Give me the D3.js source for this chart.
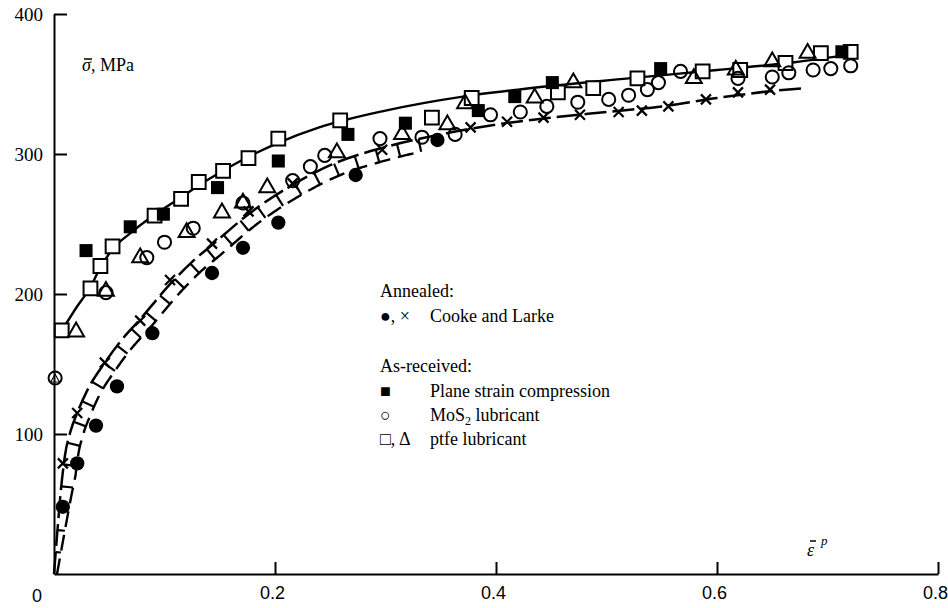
<!DOCTYPE html>
<html>
<head>
<meta charset="utf-8">
<script src="https://cdn.jsdelivr.net/npm/d3@7"></script>
<style>
  html, body { margin: 0; padding: 0; background: #fff; }
  svg { display: block; }
</style>
</head>
<body>
<svg id="chart" width="948" height="608"></svg>
<script>
// Flow stress σ̄ (MPa) against equivalent plastic strain ε̄p

// Annealed, Cooke and Larke: filled circles and crosses
const annealedDots = [
  [0.008, 48], [0.021, 79], [0.038, 106], [0.057, 134], [0.089, 172],
  [0.143, 215], [0.171, 233], [0.203, 251], [0.273, 285], [0.347, 310]
];
const annealedCrosses = [
  [0.008, 79], [0.021, 115], [0.046, 151], [0.078, 181], [0.105, 210],
  [0.143, 236], [0.176, 259], [0.216, 279], [0.297, 303], [0.377, 319],
  [0.410, 323], [0.443, 326], [0.476, 328], [0.511, 330], [0.532, 331],
  [0.556, 334], [0.590, 339], [0.619, 344], [0.648, 346]
];

// As-received material
const planeStrain = [
  [0.029, 231], [0.069, 248], [0.099, 257], [0.148, 276], [0.203, 295],
  [0.266, 314], [0.318, 322], [0.384, 331], [0.417, 341], [0.451, 351],
  [0.549, 361], [0.713, 373]
];
const mos2 = [
  [0.001, 140], [0.047, 201], [0.084, 226], [0.100, 237], [0.126, 247],
  [0.171, 265], [0.216, 281], [0.232, 291], [0.245, 299], [0.295, 311],
  [0.333, 312], [0.363, 314], [0.395, 328], [0.422, 330], [0.446, 334],
  [0.474, 337], [0.502, 339], [0.520, 342], [0.537, 346], [0.547, 351],
  [0.567, 359], [0.619, 354], [0.650, 355], [0.665, 358], [0.687, 360],
  [0.703, 361], [0.721, 363]
];
const ptfeSquares = [
  [0.007, 174], [0.033, 204], [0.042, 220], [0.053, 234], [0.091, 256],
  [0.115, 268], [0.131, 280], [0.153, 288], [0.176, 297], [0.203, 311],
  [0.259, 324], [0.342, 326], [0.378, 340], [0.456, 344], [0.488, 347],
  [0.528, 354], [0.587, 359], [0.621, 360], [0.662, 365], [0.694, 372],
  [0.721, 373]
];
const ptfeTriangles = [
  [0.001, 139], [0.020, 173], [0.047, 202], [0.078, 226], [0.120, 244],
  [0.152, 258], [0.171, 265], [0.193, 276], [0.256, 301], [0.315, 314],
  [0.356, 321], [0.372, 336], [0.435, 340], [0.470, 351], [0.579, 354],
  [0.617, 360], [0.650, 366], [0.682, 372]
];

// Fitted curves
const asReceivedCurve = [
  [0.008, 175], [0.020, 190], [0.033, 205], [0.042, 219], [0.053, 232],
  [0.070, 244], [0.090, 256], [0.115, 269], [0.130, 277], [0.153, 288],
  [0.176, 298], [0.203, 308], [0.240, 319], [0.300, 331], [0.370, 341],
  [0.420, 346], [0.520, 354], [0.600, 360], [0.670, 365.5], [0.720, 371]
];
const annealedCurve = [
  [0, 0], [0.003, 30], [0.006, 58], [0.010, 85], [0.015, 102], [0.021, 115],
  [0.030, 131], [0.046, 151], [0.060, 166], [0.078, 182], [0.105, 207],
  [0.125, 223], [0.143, 235], [0.176, 257], [0.216, 278], [0.250, 292],
  [0.300, 305], [0.350, 314], [0.400, 321], [0.450, 326], [0.500, 330],
  [0.550, 334], [0.600, 340], [0.650, 345], [0.680, 347]
];
const bandEnd = 0.33;   // strain where the hatched band closes

// Axes
const xTicks = [0.2, 0.4, 0.6, 0.8];
const xTickLabels = ["0.2", "0.4", "0.6", "0.8"];
const yTicks = [100, 200, 300, 400];
const yTickLabels = ["100", "200", "300", "400"];

const legendRows = [
  { sym: "", text: "Annealed:" },
  { sym: "●, ×", text: "Cooke and Larke" },
  { sym: "", text: "" },
  { sym: "", text: "As-received:" },
  { sym: "■", text: "Plane strain compression" },
  { sym: "○", text: "MoS", sub: "2", tail: " lubricant" },
  { sym: "□, Δ", text: "ptfe lubricant" }
];

const svg = d3.select("#chart");
const x = d3.scaleLinear().domain([0, 0.8]).range([54, 938]);
const y = d3.scaleLinear().domain([0, 400]).range([574, 14]);
const serif = "'Liberation Serif', 'Times New Roman', serif";
const sans = "'Liberation Sans', Arial, sans-serif";

// ---- axes (ticks point inward) ----
const yAxis = d3.axisLeft(y).tickValues(yTicks)
  .tickFormat((d, i) => yTickLabels[i])
  .tickSizeInner(-13).tickSizeOuter(0).tickPadding(11);
const gy = svg.append("g").attr("transform", `translate(${x(0)},0)`).call(yAxis);
gy.select(".domain").attr("stroke", "#000").attr("stroke-width", 2);
gy.selectAll(".tick line").attr("stroke", "#000").attr("stroke-width", 2);
gy.selectAll(".tick text").attr("font-family", serif).attr("font-size", 19)
  .attr("fill", "#000");

const xAxis = d3.axisBottom(x).tickValues(xTicks)
  .tickFormat((d, i) => xTickLabels[i])
  .tickSizeInner(-12).tickSizeOuter(0).tickPadding(12);
const gx = svg.append("g").attr("transform", `translate(0,${y(0)})`).call(xAxis);
gx.select(".domain").attr("stroke", "#000").attr("stroke-width", 2);
gx.selectAll(".tick line").attr("stroke", "#000").attr("stroke-width", 2);
gx.selectAll(".tick text").attr("font-family", sans).attr("font-size", 18)
  .attr("fill", "#000").attr("dx", -3);

svg.append("text").attr("x", x(0) - 17).attr("y", y(0) + 28)
  .attr("text-anchor", "middle").attr("font-family", sans).attr("font-size", 18)
  .text("0");

// axis titles (bars drawn as short strokes over the symbols)
const yTitle = svg.append("text").attr("x", 82).attr("y", 71)
  .attr("font-family", serif).attr("font-size", 18);
yTitle.append("tspan").attr("font-style", "italic").text("σ");
yTitle.append("tspan").text(",  MPa");
svg.append("line").attr("x1", 84).attr("x2", 92).attr("y1", 59).attr("y2", 59)
  .attr("stroke", "#000").attr("stroke-width", 1.5);

const xTitle = svg.append("text").attr("x", 807).attr("y", 556)
  .attr("font-family", serif).attr("font-size", 18).attr("font-style", "italic");
xTitle.append("tspan").text("ε");
xTitle.append("tspan").attr("dx", 7).attr("dy", -11).attr("font-size", 13).text("p");
svg.append("line").attr("x1", 810).attr("x2", 816).attr("y1", 541).attr("y2", 541)
  .attr("stroke", "#000").attr("stroke-width", 1.5);

// ---- curves ----
const line = d3.line().x(d => x(d[0])).y(d => y(d[1])).curve(d3.curveMonotoneX);

svg.append("path").datum(asReceivedCurve).attr("d", line)
  .attr("fill", "none").attr("stroke", "#000").attr("stroke-width", 2.4);

const annealedPath = svg.append("path").datum(annealedCurve).attr("d", line)
  .attr("fill", "none").attr("stroke", "#000").attr("stroke-width", 2.5)
  .attr("stroke-dasharray", "22,6");

// hatched band alongside the annealed curve
const node = annealedPath.node();
const total = node.getTotalLength();
const endX = x(bandEnd);
const offsetPts = [];
const rungs = [];
let lastRung = -1e9;
for (let s = 0; s <= total; s += 2) {
  const p = node.getPointAtLength(s);
  if (p.x > endX) break;
  const q = node.getPointAtLength(Math.min(total, s + 1));
  let tx = q.x - p.x, ty = q.y - p.y;
  const len = Math.hypot(tx, ty) || 1;
  tx /= len; ty /= len;
  const off = Math.min(13, 3 + s * 0.1);
  const b = [p.x - ty * off, p.y + tx * off];
  offsetPts.push(b);
  if (s - lastRung >= 21 && s > 20) {
    rungs.push([[p.x, p.y], b]);
    lastRung = s;
  }
}
svg.append("path").datum(offsetPts).attr("d", d3.line())
  .attr("fill", "none").attr("stroke", "#000").attr("stroke-width", 2.4)
  .attr("stroke-dasharray", "16,8");
svg.append("g").selectAll("line").data(rungs).join("line")
  .attr("x1", d => d[0][0]).attr("y1", d => d[0][1])
  .attr("x2", d => d[1][0]).attr("y2", d => d[1][1])
  .attr("stroke", "#000").attr("stroke-width", 2.2);

// ---- markers ----
const at = d => `translate(${x(d[0])},${y(d[1])})`;

svg.append("g").selectAll("path").data(ptfeSquares).join("path")
  .attr("transform", at).attr("d", d3.symbol().type(d3.symbolSquare).size(190))
  .attr("fill", "#fff").attr("stroke", "#000").attr("stroke-width", 2);

svg.append("g").selectAll("path").data(mos2).join("path")
  .attr("transform", at).attr("d", d3.symbol().type(d3.symbolCircle).size(135))
  .attr("fill", "none").attr("stroke", "#000").attr("stroke-width", 2);

svg.append("g").selectAll("path").data(ptfeTriangles).join("path")
  .attr("transform", (d, i) => at(d) + (i === 0 ? " scale(0.55)" : ""))
  .attr("d", d3.symbol().type(d3.symbolTriangle).size(110))
  .attr("fill", "none").attr("stroke", "#000").attr("stroke-width", 2);

svg.append("g").selectAll("path").data(planeStrain).join("path")
  .attr("transform", at).attr("d", d3.symbol().type(d3.symbolSquare).size(170))
  .attr("fill", "#000");

svg.append("g").selectAll("path").data(annealedDots).join("path")
  .attr("transform", at).attr("d", d3.symbol().type(d3.symbolCircle).size(160))
  .attr("fill", "#000");

const cross = s => `M${-s},${-s}L${s},${s}M${-s},${s}L${s},${-s}`;
svg.append("g").selectAll("path").data(annealedCrosses).join("path")
  .attr("transform", at).attr("d", cross(5))
  .attr("fill", "none").attr("stroke", "#000").attr("stroke-width", 2.2);

// ---- legend ----
const legend = svg.append("g").attr("font-family", serif).attr("font-size", 18)
  .attr("fill", "#000");
const rowY = [297, 322, 347, 372, 397, 421, 445];
legendRows.forEach((r, i) => {
  if (r.sym) {
    legend.append("text").attr("x", 380).attr("y", rowY[i]).text(r.sym);
    const t = legend.append("text").attr("x", 430).attr("y", rowY[i]);
    t.append("tspan").text(r.text);
    if (r.sub) {
      t.append("tspan").attr("font-size", 12).attr("dy", 4).text(r.sub);
      t.append("tspan").attr("dy", -4).text(r.tail);
    }
  } else if (r.text) {
    legend.append("text").attr("x", 380).attr("y", rowY[i]).text(r.text);
  }
});
</script>
</body>
</html>
